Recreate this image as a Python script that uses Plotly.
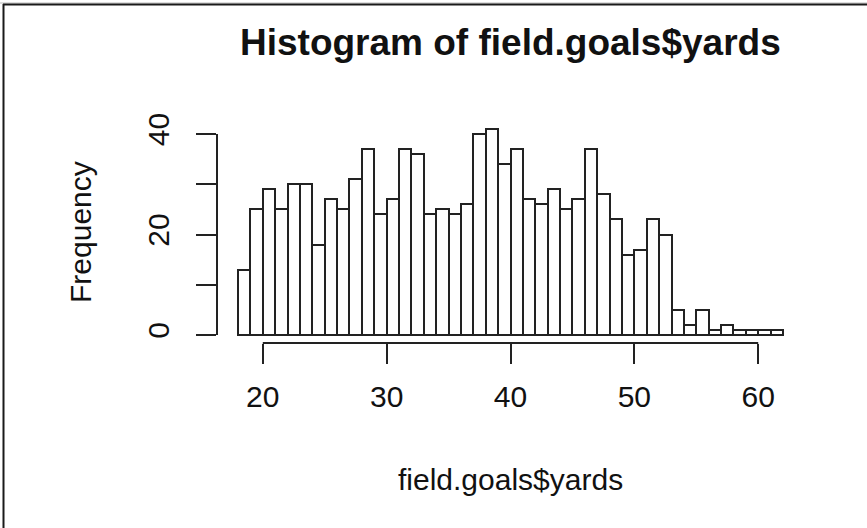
import plotly.graph_objects as go

# Histogram data (bins of width 1 from 18 to 62)
bin_edges = list(range(18, 63))
counts = [13, 25, 29, 25, 30, 30, 18, 27, 25, 31,
          37, 24, 27, 37, 36, 24, 25, 24, 26, 40,
          41, 34, 37, 27, 26, 29, 25, 27, 37, 28,
          23, 16, 17, 23, 20, 5, 2, 5, 1, 2,
          1, 1, 1, 1]
x_ticks = [20, 30, 40, 50, 60]
x_ticklabels = ["20", "30", "40", "50", "60"]
y_ticks = [0, 10, 20, 30, 40]
y_ticklabels = ["0", "", "20", "", "40"]

title_text = "Histogram of field.goals$yards"
x_title = "field.goals$yards"
y_title = "Frequency"

centers = [(a + b) / 2 for a, b in zip(bin_edges[:-1], bin_edges[1:])]
widths = [b - a for a, b in zip(bin_edges[:-1], bin_edges[1:])]

FONT = "Liberation Sans, Arial, Helvetica, sans-serif"
INK = "#111111"
LINE = "#222222"

# plot area in pixels: left 217, right 800, top 110, bottom 343
L, R, T, B = 217, 67, 110, 185
W, H = 867, 528
pw, ph = W - L - R, H - T - B

def px_to_paper_x(px):
    return (px - L) / pw

def px_to_paper_y(py):
    return (H - B - py) / ph

fig = go.Figure()
fig.add_trace(go.Bar(
    x=centers, y=counts, width=widths,
    marker=dict(color="white", line=dict(color=LINE, width=2)),
    hoverinfo="x+y", showlegend=False,
))

fig.update_layout(
    width=W, height=H,
    margin=dict(l=L, r=R, t=T, b=B),
    paper_bgcolor="white", plot_bgcolor="white",
    font=dict(family=FONT, size=30, color=INK),
    bargap=0,
    xaxis=dict(
        range=[16.303, 63.374], showgrid=False, zeroline=False, showline=False,
        tickvals=x_ticks, ticktext=x_ticklabels,
        ticks="outside", ticklen=20, tickwidth=2, tickcolor=LINE,
        tickfont=dict(size=30, color=INK), ticklabelstandoff=7,
    ),
    yaxis=dict(
        range=[-1.592, 44.776], showgrid=False, zeroline=False, showline=False,
        tickvals=y_ticks, ticktext=y_ticklabels, tickangle=-90,
        ticks="outside", ticklen=20, tickwidth=2, tickcolor=LINE,
        tickfont=dict(size=30, color=INK), ticklabelstandoff=15,
    ),
    shapes=[
        # R-style detached axis lines spanning the tick range
        dict(type="line", xref="x", yref="paper", x0=x_ticks[0], x1=x_ticks[-1],
             y0=0, y1=0, line=dict(color=LINE, width=2)),
        dict(type="line", xref="paper", yref="y", x0=0, x1=0,
             y0=y_ticks[0], y1=y_ticks[-1], line=dict(color=LINE, width=2)),
        # image frame (top and left)
        dict(type="line", xref="paper", yref="paper",
             x0=px_to_paper_x(0), x1=px_to_paper_x(867),
             y0=px_to_paper_y(3), y1=px_to_paper_y(3),
             line=dict(color="#bbbbbb", width=1)),
        dict(type="line", xref="paper", yref="paper",
             x0=px_to_paper_x(3), x1=px_to_paper_x(867),
             y0=px_to_paper_y(4.5), y1=px_to_paper_y(4.5),
             line=dict(color="#1a1a1a", width=2)),
        dict(type="line", xref="paper", yref="paper",
             x0=px_to_paper_x(3.5), x1=px_to_paper_x(3.5),
             y0=px_to_paper_y(4), y1=px_to_paper_y(528),
             line=dict(color="#1a1a1a", width=2)),
    ],
    annotations=[
        dict(text="<b>" + title_text + "</b>", xref="x", yref="paper",
             x=40, y=px_to_paper_y(43), xanchor="center", yanchor="middle",
             showarrow=False, font=dict(size=37, color=INK, family=FONT)),
        dict(text=x_title, xref="x", yref="paper",
             x=40, y=px_to_paper_y(479), xanchor="center", yanchor="middle",
             showarrow=False, font=dict(size=30, color=INK, family=FONT)),
        dict(text=y_title, xref="paper", yref="y",
             x=px_to_paper_x(81), y=20.5, xanchor="center", yanchor="middle",
             textangle=-90, showarrow=False,
             font=dict(size=30, color=INK, family=FONT)),
    ],
)

fig.write_html(
    "out.html",
    config={"displayModeBar": False},
    post_script="document.body.style.margin='0';document.body.style.overflow='hidden';",
)
